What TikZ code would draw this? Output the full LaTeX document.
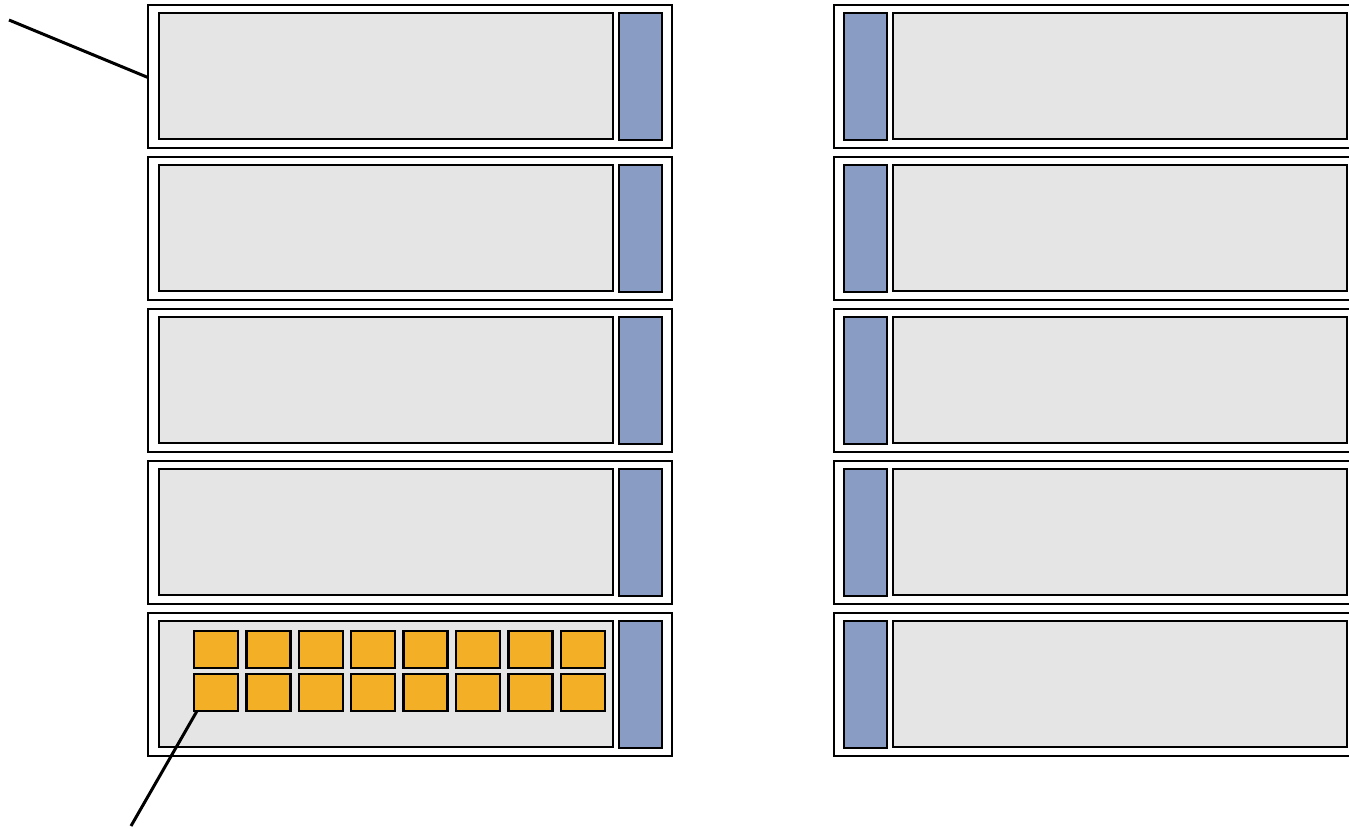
\documentclass[tikz,border=0pt]{standalone}
\tikzset{
  px/.style={x=1pt,y=-1pt},
  rackbox/.style={draw=black,fill=white,line width=2pt,inner sep=0pt,outer sep=0pt,anchor=north west,minimum width=524pt,minimum height=143pt},
  greybox/.style={draw=black,fill=black!10,line width=2.6pt,inner sep=0pt,outer sep=0pt,anchor=north west,minimum width=454pt,minimum height=126pt},
  bluebox/.style={draw=black,fill={rgb,255:red,137;green,157;blue,196},line width=2.6pt,inner sep=0pt,outer sep=0pt,anchor=north west,minimum width=43pt,minimum height=127pt},
  orangebox/.style={draw=black,fill={rgb,255:red,243;green,175;blue,37},line width=2.4pt,inner sep=0pt,outer sep=0pt,anchor=north west,minimum width=44pt,minimum height=37pt},
  leader/.style={draw=black,line width=3pt}
}
\begin{document}
\begin{tikzpicture}[px]
\useasboundingbox (0,0) rectangle (1349,828);
\clip (0,0) rectangle (1349,828);
\foreach \i in {0,...,4}{
  \pgfmathsetmacro{\yy}{5+152*\i}
  % left column
  \node[rackbox] (L\i) at (148,\yy) {};
  \node[greybox] (LG\i) at (159,\yy+8) {};
  \node[bluebox] (LB\i) at (619,\yy+8) {};
  % right column
  \node[rackbox] (R\i) at (834,\yy) {};
  \node[bluebox] (RB\i) at (844,\yy+8) {};
  \node[greybox] (RG\i) at (893,\yy+8) {};
}
\foreach \j in {0,...,7}{
  \pgfmathsetmacro{\xx}{194+52.4*\j}
  \node[orangebox] (OA\j) at (\xx,631) {};
  \node[orangebox] (OB\j) at (\xx,674) {};
}
\coordinate (c1) at (9,20);
\coordinate (c2) at (131,826);
\draw[leader] (c1) -- ([yshift=-1pt]L0.west);
\draw[leader] (c2) -- ([xshift=3pt]OB0.south west);
\end{tikzpicture}
\end{document}
